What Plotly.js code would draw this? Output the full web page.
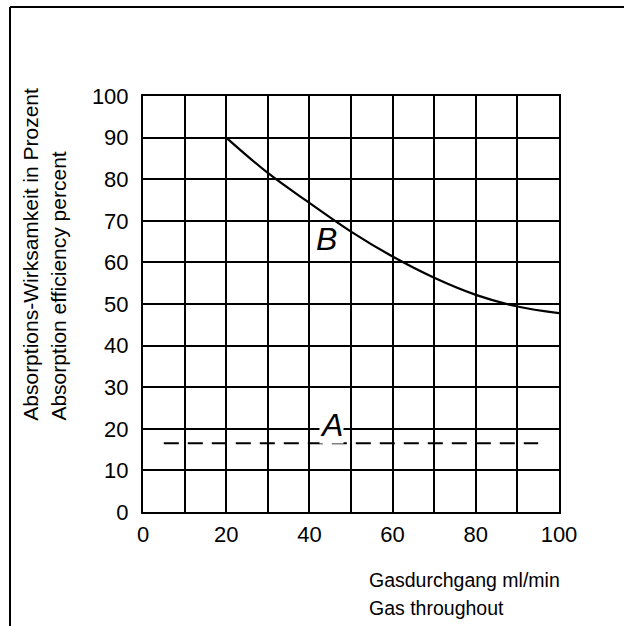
<!DOCTYPE html>
<html>
<head>
<meta charset="utf-8">
<script src="https://cdn.plot.ly/plotly-3.0.1.min.js"></script>
<style>html,body{margin:0;padding:0;background:#fff;}#chart{width:624px;height:626px;}</style>
</head>
<body>
<div id="chart"></div>
<script>
// Curve B: absorption efficiency vs gas throughput
const curveB_x = [20, 30, 40, 50, 60, 70, 80, 90, 100];
const curveB_y = [90, 81.5, 74.3, 67.4, 61.4, 56.3, 52.2, 49.4, 47.8];
// Line A (dashed, constant)
const lineA_x = [5, 95];
const lineA_y = [16.5, 16.5];
// Tick labels
const xTickVals = [0, 20, 40, 60, 80, 100];
const yTickVals = [0, 10, 20, 30, 40, 50, 60, 70, 80, 90, 100];

const FONT = 'Liberation Sans, Arial, sans-serif';

const traces = [
  {x: curveB_x, y: curveB_y, mode: 'lines', line: {color: '#000', width: 2.2, shape: 'spline', smoothing: 1}, hoverinfo: 'skip', showlegend: false},
  {x: lineA_x, y: lineA_y, mode: 'lines', line: {color: '#000', width: 2, dash: '15px,9px'}, hoverinfo: 'skip', showlegend: false}
];

const axisCommon = {
  showline: true, mirror: true, linecolor: '#000', linewidth: 2,
  showgrid: true, gridcolor: '#000', gridwidth: 2,
  zeroline: false, ticks: '', fixedrange: true,
  tickfont: {family: FONT, size: 22, color: '#000'}
};

const layout = {
  width: 624, height: 626,
  margin: {l: 143, r: 65, t: 96, b: 114},
  paper_bgcolor: '#fff', plot_bgcolor: '#fff',
  showlegend: false,
  xaxis: Object.assign({}, axisCommon, {
    range: [0, 100], tickmode: 'array', tickvals: xTickVals,
    minor: {dtick: 10, showgrid: true, gridcolor: '#000', gridwidth: 2},
    ticklabelstandoff: 2
  }),
  yaxis: Object.assign({}, axisCommon, {
    range: [0, 100], tickmode: 'array', tickvals: yTickVals,
    ticklabelstandoff: 8
  }),
  shapes: [
    {type: 'line', xref: 'paper', yref: 'paper', x0: -0.3197, x1: 1.2, y0: 1.214, y1: 1.214, line: {color: '#000', width: 2}},
    {type: 'line', xref: 'paper', yref: 'paper', x0: -0.3197, x1: -0.3197, y0: 1.214, y1: -0.3, line: {color: '#000', width: 2}}
  ],
  annotations: [
    {x: 44, y: 65.6, xref: 'x', yref: 'y', text: 'B', showarrow: false, font: {family: FONT, size: 32, color: '#000', style: 'italic'}},
    {x: 45.2, y: 21, xref: 'x', yref: 'y', text: 'A', showarrow: false, bgcolor: '#fff', borderpad: 0, font: {family: FONT, size: 32, color: '#000', style: 'italic'}},
    {x: -0.271, y: 0.214, xref: 'paper', yref: 'paper', text: 'Absorptions-Wirksamkeit in Prozent', textangle: -90, showarrow: false, xanchor: 'center', yanchor: 'bottom', font: {family: FONT, size: 21, color: '#000'}},
    {x: -0.204, y: 0.214, xref: 'paper', yref: 'paper', text: 'Absorption efficiency percent', textangle: -90, showarrow: false, xanchor: 'center', yanchor: 'bottom', font: {family: FONT, size: 21, color: '#000'}},
    {x: 0.538, y: -0.163, xref: 'paper', yref: 'paper', text: 'Gasdurchgang ml/min', showarrow: false, xanchor: 'left', yanchor: 'middle', font: {family: FONT, size: 19.5, color: '#000'}},
    {x: 0.538, y: -0.231, xref: 'paper', yref: 'paper', text: 'Gas throughout', showarrow: false, xanchor: 'left', yanchor: 'middle', font: {family: FONT, size: 19.5, color: '#000'}}
  ]
};

Plotly.newPlot('chart', traces, layout, {staticPlot: true, displayModeBar: false});
</script>
</body>
</html>
